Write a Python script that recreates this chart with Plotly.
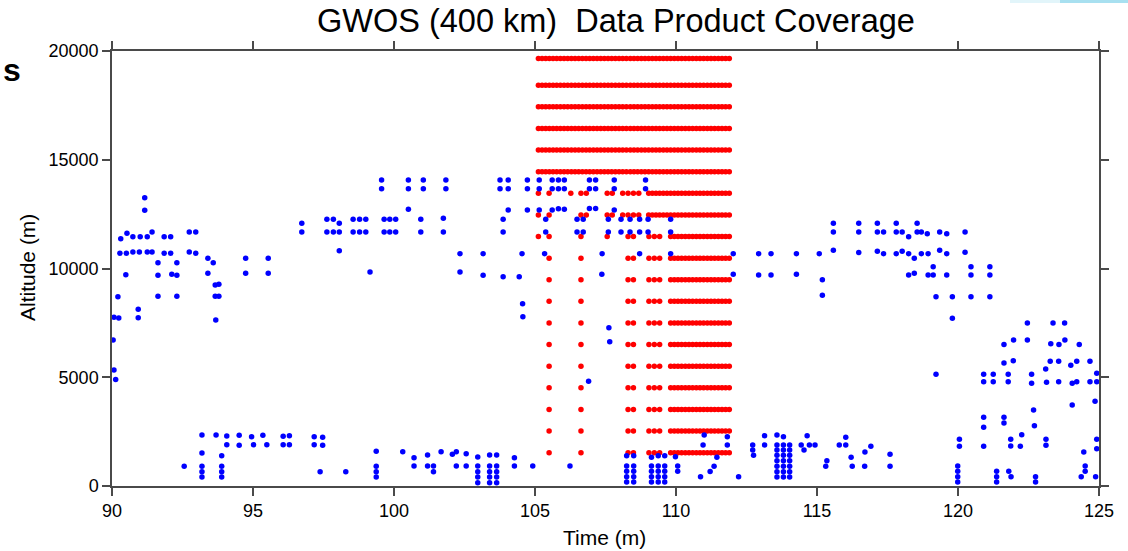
import plotly.graph_objects as go

# ---- Sample times (minutes) of the dense data-product grid ----
red_grid_time = [
    105.12, 105.25, 105.38, 105.51, 105.64, 105.77, 105.90, 106.03, 106.16, 106.29,
    106.42, 106.55, 106.68, 106.81, 106.94, 107.07, 107.20, 107.33, 107.46, 107.59,
    107.72, 107.85, 107.98, 108.11, 108.24, 108.38, 108.51, 108.64, 108.77, 108.90,
    109.03, 109.16, 109.29, 109.42, 109.55, 109.68, 109.81, 109.94, 110.07, 110.20,
    110.33, 110.46, 110.59, 110.72, 110.85, 110.98, 111.11, 111.24, 111.37, 111.50,
    111.63, 111.76, 111.89,
]

# Altitude levels (m) that are covered at every grid time
red_full_alt = [14450, 15445, 16440, 17435, 18425, 19650]

# Lower levels: sparse early samples followed by the continuous block
red_low_alt = [1530, 2525, 3520, 4515, 5505, 6500, 7495, 8490, 9480, 10475]
red_low_sparse = [105.50, 106.63, 108.30, 108.49, 109.04, 109.23, 109.42]
red_low_block_start = 109.80

red_alt_11470 = 11470
red_sparse_11470 = [105.12, 105.50, 106.63, 107.56, 108.30, 108.49, 109.04, 109.23, 109.42]
red_block_11470 = 109.80

red_alt_12465 = 12465
red_sparse_12465 = [105.12, 105.50, 106.63, 106.82, 107.56, 107.74, 108.11, 108.30, 108.49, 108.68]
red_block_12465 = 109.00

red_alt_13460 = 13460
red_sparse_13460 = [105.12, 105.50, 106.27, 106.63, 106.82, 107.56, 107.74, 108.11, 108.30, 108.49, 108.68]
red_block_13460 = 109.00

# ---- Sparse product samples (time in minutes, altitude in m) ----
blue_time = [
    # 90 - 98.5, upper troposphere
    90.04, 90.07, 90.13, 90.07, 90.24, 90.21, 90.28, 90.51, 90.31, 90.49, 90.53,
    90.74, 91.00, 90.74, 90.97, 90.93, 90.93, 91.16, 91.16, 91.25, 91.42, 91.25, 91.42,
    91.63, 91.63, 91.63, 91.85, 92.08, 91.85, 92.08, 92.12, 92.30, 92.30, 92.30,
    92.74, 92.97, 92.74, 92.97, 93.40, 93.40, 93.59, 93.66, 93.79, 93.66, 93.79, 93.68,
    94.74, 94.74, 95.54, 95.54, 96.73, 96.73, 97.62, 97.85, 98.06, 97.62, 97.85, 98.06, 98.06,
    98.55, 98.78, 99.00, 98.55, 98.78, 99.00, 99.15,
    # 92.5 - 99.5, near surface
    92.56, 93.19, 93.19, 93.19, 93.19, 93.19, 93.69, 93.89, 93.89, 93.89, 93.89,
    94.07, 94.07, 94.51, 94.51, 94.95, 95.02, 95.35, 95.49, 96.07, 96.07, 96.29, 96.29,
    97.17, 97.17, 97.47, 97.47, 97.38, 98.29, 99.37, 99.37, 99.37, 99.37,
    # 99.5 - 112, upper levels
    99.56, 100.51, 101.04, 101.84, 103.76, 104.05, 104.73, 105.15, 105.61, 105.83, 106.04,
    106.93, 107.15, 107.81, 108.92,
    99.56, 100.51, 101.04, 101.84, 103.76, 104.05, 104.73, 105.15, 105.61, 105.83, 106.04,
    106.93, 107.15, 107.81, 108.92,
    100.51, 104.05, 104.73, 105.15, 105.61, 105.83, 106.04, 106.93, 107.15, 107.81,
    99.65, 99.85, 100.06, 100.95, 101.75, 103.87, 105.38, 106.49, 106.71, 107.60, 108.05,
    108.37, 108.71, 109.01, 109.81,
    99.65, 99.85, 100.06, 100.95, 101.75, 103.87, 105.38, 106.49, 106.71, 107.60, 108.05,
    108.37, 108.71, 109.01, 109.81,
    102.34, 103.16, 104.54, 105.34, 107.38, 108.71, 109.81, 112.03,
    102.34, 103.16, 103.87, 104.44, 104.56, 104.57, 107.37, 107.62, 107.65, 106.90, 112.03,
    # 100 - 112.3, near surface
    100.31, 100.71, 100.71, 101.19, 101.19, 101.40, 101.40, 101.67, 102.07, 102.21, 102.21,
    102.56, 102.56, 102.97, 102.97, 102.97, 102.97, 102.97, 103.39, 103.39, 103.39, 103.39,
    103.39, 103.64, 103.64, 103.64, 103.64, 103.64, 104.27, 104.27, 104.92, 106.24,
    108.25, 108.50, 108.25, 108.25, 108.25, 108.25, 108.50, 108.50, 108.50, 108.50,
    109.13, 109.37, 109.60, 109.13, 109.13, 109.13, 109.13, 109.37, 109.37, 109.37, 109.37,
    109.60, 109.60, 109.60, 109.60, 109.98, 110.06, 110.06, 110.87, 111.00, 110.96,
    111.21, 111.35, 111.45, 111.82, 111.82, 112.22,
    # 112.5 - 118, near surface
    112.72, 112.72, 112.75, 113.14, 113.14,
    113.58, 113.58, 113.58, 113.58, 113.58, 113.58, 113.58, 113.58,
    113.81, 113.81, 113.81, 113.81, 113.81, 113.81, 113.81, 113.81,
    114.03, 114.03, 114.03, 114.03, 114.03, 114.03, 114.03,
    114.44, 114.54, 114.65, 114.73, 114.93, 115.31, 115.35, 115.79, 116.02, 116.02,
    116.21, 116.25, 116.69, 116.70, 116.91, 117.59, 117.59,
    # 112 - 121.2, upper levels
    112.93, 112.93, 113.37, 113.37, 114.27, 114.27, 115.08, 115.19, 115.19,
    115.58, 115.58, 115.58, 116.48, 116.48, 116.48, 117.14, 117.14, 117.14,
    117.36, 117.36, 117.81, 117.81, 117.81, 118.02, 118.02, 118.25, 118.25, 118.25,
    118.45, 118.45, 118.55, 118.55, 118.70, 118.70, 118.91, 118.94, 118.94,
    119.12, 119.12, 119.35, 119.35, 119.60, 119.60, 119.60, 119.22, 119.80, 119.80,
    120.25, 120.25, 120.46, 120.46, 120.46, 121.13, 121.13, 121.13,
    # 119 - 125, mid and lower levels
    119.22, 120.91, 120.91, 121.25, 121.25, 121.78, 121.78, 122.61, 122.61, 123.11, 123.14,
    123.57, 124.05, 124.21, 124.68, 124.92, 124.92,
    121.63, 121.97, 122.46, 122.46, 123.37, 123.78, 123.29, 123.58, 123.79, 124.30,
    121.63, 121.96, 123.27, 123.57, 124.00, 124.21, 124.68, 124.05, 124.86,
    120.91, 120.91, 121.63, 121.63, 122.68, 122.71, 122.26,
    120.05, 120.05, 120.91, 121.87, 121.87, 122.21, 123.12, 123.12, 124.92, 124.92, 124.46,
    119.99, 119.99, 119.99, 119.99, 121.37, 121.37, 121.37, 121.80, 121.88, 122.75, 122.75,
    124.51, 124.51, 124.37, 124.88,
]

blue_alt = [
    # 90 - 98.5, upper troposphere
    6713, 5330, 4900, 7755, 7725, 8704, 10700, 10700, 11372, 9716, 11619,
    11464, 11464, 10760, 10760, 8125, 7740, 13256, 12675, 11464, 11679, 10760, 10760,
    10270, 9688, 8720, 11464, 11464, 10700, 10700, 9734, 10270, 9688, 8720,
    11679, 11679, 10760, 10700, 10470, 9780, 10270, 9242, 9274, 8720, 8720, 7633,
    10470, 9780, 10470, 9780, 12079, 11679, 12263, 12263, 12079, 11679, 11679, 11679, 10820,
    12263, 12263, 12263, 11679, 11679, 11679, 9840,
    # 92.5 - 99.5, near surface
    905, 2345, 1517, 905, 657, 414, 2345, 1395, 905, 657, 414,
    2299, 1900, 2330, 1870, 2267, 1900, 2330, 1900, 2283, 1900, 2314, 1900,
    2267, 1900, 2238, 1870, 657, 657, 1594, 905, 657, 414,
    # 99.5 - 112, upper levels
    14070, 14070, 14070, 14070, 14070, 14070, 14070, 14070, 14070, 14070, 14070,
    14070, 14070, 14070, 14070,
    13670, 13670, 13670, 13670, 13670, 13670, 13670, 13670, 13670, 13670, 13670,
    13670, 13670, 13670, 13670,
    12722, 12690, 12690, 12690, 12690, 12750, 12720, 12760, 12760, 12690,
    12263, 12263, 12263, 12263, 12309, 12263, 12263, 12263, 12263, 12263, 12263,
    12263, 12263, 12263, 12263,
    11679, 11679, 11679, 11679, 11679, 11679, 11679, 11679, 11679, 11679, 11679,
    11679, 11679, 11679, 11679,
    10682, 10682, 10682, 10682, 10682, 10682, 10682, 10682,
    9840, 9688, 9624, 9624, 8382, 7785, 9734, 7280, 6637, 4814, 9734,
    # 100 - 112.3, near surface
    1578, 1303, 920, 1425, 920, 920, 659, 1578, 1456, 1578, 920,
    1486, 920, 1333, 920, 659, 414, 153, 1425, 920, 659, 414,
    153, 1425, 920, 659, 414, 153, 1303, 920, 920, 920,
    1395, 1395, 920, 675, 430, 184, 920, 675, 430, 184,
    1318, 1395, 1395, 920, 675, 430, 184, 920, 675, 430, 184,
    920, 675, 430, 184, 1350, 920, 675, 425, 2350, 1880,
    668, 910, 1325, 2268, 1890, 420,
    # 112.5 - 118, near surface
    1885, 1655, 1410, 2314, 1885,
    2345, 1885, 1655, 1410, 1165, 905, 657, 414,
    2268, 1885, 1655, 1410, 1165, 905, 657, 414,
    1885, 1655, 1410, 1165, 905, 657, 414,
    1885, 1655, 2314, 1885, 1885, 905, 1165, 1885, 2237, 1885,
    1318, 905, 905, 1563, 1824, 1456, 905,
    # 112 - 121.2, upper levels
    10682, 9702, 10682, 9702, 10682, 9734, 10682, 9486, 8768,
    12079, 11679, 10838, 12079, 11679, 10730, 12079, 11679, 10791,
    11679, 10682, 12079, 11679, 10682, 11679, 10791, 11464, 10682, 9702,
    10470, 9780, 12079, 11679, 11679, 10682, 11600, 10682, 9702,
    10083, 9702, 11679, 10838, 11600, 10682, 9702, 8704, 8704, 7711,
    11679, 10750, 10083, 9702, 8704, 10083, 9702, 8704,
    # 119 - 125, mid and lower levels
    5136, 5136, 4797, 5136, 4797, 5136, 4797, 5136, 4720, 5380, 4766,
    4797, 4720, 4797, 4797, 5180, 4797,
    6500, 6714, 7495, 6714, 7495, 7495, 6545, 6500, 6714, 6500,
    5655, 5762, 5732, 5732, 5548, 5732, 5732, 3724, 3894,
    3157, 2697, 3157, 2897, 3494, 2774, 2360,
    2145, 1824, 1824, 2145, 1840, 1824, 2145, 1870, 2145, 1717, 1563,
    920, 675, 430, 184, 675, 430, 184, 675, 430, 430, 184,
    920, 675, 430, 430,
]

x_ticks = [90, 95, 100, 105, 110, 115, 120, 125]
y_ticks = [0, 5000, 10000, 15000, 20000]

# ---- Assemble the dense grid points ----
red_t, red_a = [], []
for alt in red_full_alt:
    red_t += red_grid_time
    red_a += [alt] * len(red_grid_time)


def add_partial_row(alt, sparse, block_start):
    block = [t for t in red_grid_time if t >= block_start]
    times = sparse + block
    red_t.extend(times)
    red_a.extend([alt] * len(times))


for alt in red_low_alt:
    add_partial_row(alt, red_low_sparse, red_low_block_start)
add_partial_row(red_alt_11470, red_sparse_11470, red_block_11470)
add_partial_row(red_alt_12465, red_sparse_12465, red_block_12465)
add_partial_row(red_alt_13460, red_sparse_13460, red_block_13460)

FONT = "Liberation Sans, Arial, sans-serif"
AXIS_COLOR = "#4a4a4a"

fig = go.Figure()
fig.add_trace(go.Scatter(
    x=red_t, y=red_a, mode="markers",
    marker=dict(color="#ff0000", size=5.5, line=dict(width=0)),
    hoverinfo="x+y", showlegend=False, cliponaxis=False,
))
fig.add_trace(go.Scatter(
    x=blue_time, y=blue_alt, mode="markers",
    marker=dict(color="#0000ff", size=5.5, line=dict(width=0)),
    hoverinfo="x+y", showlegend=False, cliponaxis=False,
))

axis_common = dict(
    showgrid=False, zeroline=False, showline=True, linecolor=AXIS_COLOR, linewidth=1.5,
    ticks="outside", ticklen=8, tickwidth=1.5, tickcolor=AXIS_COLOR, mirror="ticks",
    tickfont=dict(family=FONT, size=18, color="#000000"),
)


def px_x(p):
    return (p - 112) / 987


def px_y(p):
    return (486 - p) / 435


fig.update_layout(
    width=1128, height=551,
    margin=dict(l=112, r=29, t=51, b=65),
    paper_bgcolor="white", plot_bgcolor="white",
    xaxis=dict(range=[90, 125], tickvals=x_ticks, ticktext=[str(v) for v in x_ticks], **axis_common),
    yaxis=dict(range=[0, 20000], tickvals=y_ticks, ticktext=[str(v) for v in y_ticks], **axis_common),
    font=dict(family=FONT, color="#000000"),
    annotations=[
        dict(text="GWOS (400 km)\u00a0 Data Product Coverage", xref="paper", yref="paper",
             x=px_x(616), y=px_y(21), xanchor="center", yanchor="middle", showarrow=False,
             font=dict(family=FONT, size=32.5, color="#000000")),
        dict(text="Time (m)", xref="paper", yref="paper", x=px_x(604), y=px_y(537),
             xanchor="center", yanchor="middle", showarrow=False,
             font=dict(family=FONT, size=21, color="#000000")),
        dict(text="Altitude (m)", xref="paper", yref="paper", x=px_x(27), y=px_y(268),
             xanchor="center", yanchor="middle", showarrow=False, textangle=-90,
             font=dict(family=FONT, size=21, color="#000000")),
        dict(text="<b>s</b>", xref="paper", yref="paper", x=px_x(1), y=px_y(70),
             xanchor="left", yanchor="middle", showarrow=False,
             font=dict(family=FONT, size=32, color="#000000")),
    ],
    shapes=[
        dict(type="rect", xref="paper", yref="paper",
             x0=px_x(1060), x1=px_x(1128), y0=px_y(3), y1=px_y(0),
             fillcolor="#a8e0f0", line=dict(width=0), layer="below"),
        dict(type="rect", xref="paper", yref="paper",
             x0=px_x(1010), x1=px_x(1060), y0=px_y(3), y1=px_y(0),
             fillcolor="#e2f5fa", line=dict(width=0), layer="below"),
    ],
)

fig.write_html("out.html")
